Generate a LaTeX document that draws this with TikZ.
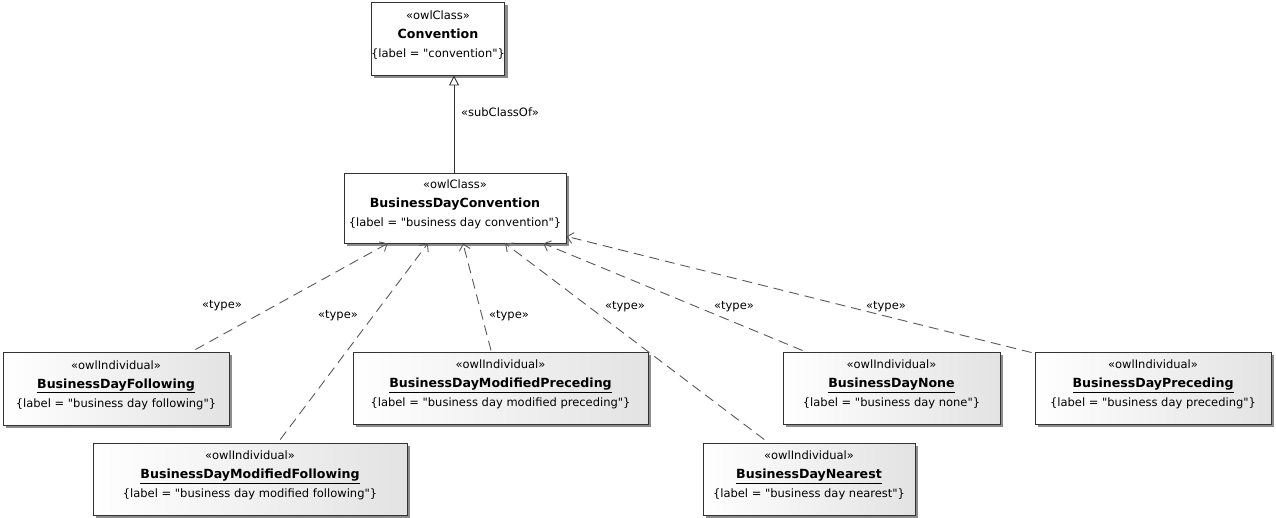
\documentclass[tikz,border=0pt]{standalone}
\usepackage{fontspec}
\setmainfont{DejaVu Sans}[Ligatures=TeXOff]
\usetikzlibrary{shadows,arrows.meta,calc}

\newcommand{\stfont}{\fontsize{11.5}{16}\selectfont}
\newcommand{\nmfont}{\fontsize{12.6}{16}\selectfont\bfseries}
\newcommand{\owlcls}[2]{{\stfont «owlClass»}\\[3pt]{\nmfont #1}\\[3pt]{\stfont \{label = "#2"\}}}
\newcommand{\owlind}[2]{{\stfont «owlIndividual»}\\[3pt]{\nmfont\underline{#1}}\\[3pt]{\stfont \{label = "#2"\}}}

\tikzset{
  umlbox/.style={draw=black!80, line width=0.9pt, align=center, inner sep=0pt,
    font=\stfont, text depth=9pt,
    drop shadow={shadow xshift=3pt, shadow yshift=-3pt, fill=black!45, opacity=1}},
  clsbox/.style={umlbox, fill=white},
  indbox/.style={umlbox, left color=white, right color=black!11},
  typeline/.style={draw=black!65, line width=0.9pt, dash pattern=on 10pt off 6pt,
    -{Straight Barb[length=6pt,width=11pt,line width=0.9pt]}},
  subline/.style={draw=black!80, line width=0.9pt,
    -{Triangle[open,length=10pt,width=10pt,line width=0.9pt]}},
  lbl/.style={font=\stfont, inner sep=1pt}
}

\begin{document}
\begin{tikzpicture}[x=1pt,y=-1pt]
\useasboundingbox (0,0) rectangle (1276,518);

\node[clsbox, minimum width=118pt, minimum height=73pt] (conv) at (438,38.5) {\owlcls{Convention}{convention}};
\node[clsbox, minimum width=222pt, minimum height=70pt] (bdc) at (455,208) {\owlcls{BusinessDayConvention}{business day convention}};

\node[indbox, minimum width=226pt, minimum height=73pt] (fol) at (116,388.5) {\owlind{BusinessDayFollowing}{business day following}};
\node[indbox, minimum width=314pt, minimum height=72pt] (mfol) at (250,479) {\owlind{BusinessDayModifiedFollowing}{business day modified following}};
\node[indbox, minimum width=295pt, minimum height=72pt] (mpre) at (500.5,388) {\owlind{BusinessDayModifiedPreceding}{business day modified preceding}};
\node[indbox, minimum width=212pt, minimum height=72pt] (near) at (809,479) {\owlind{BusinessDayNearest}{business day nearest}};
\node[indbox, minimum width=217pt, minimum height=72pt] (none) at (891.5,388) {\owlind{BusinessDayNone}{business day none}};
\node[indbox, minimum width=236pt, minimum height=72pt] (pre) at (1153,388) {\owlind{BusinessDayPreceding}{business day preceding}};

% subClassOf
\coordinate (subtip) at ($(conv.south west)!0.619!(conv.south east)$);
\draw[subline] (bdc.north -| subtip) -- (subtip);
\node[lbl] (lsub) at (500,112) {«subClassOf»};

% type connectors
\draw[typeline] ($(fol.north west)!0.85!(fol.north east)+(0,-2)$) -- ($(bdc.south west)!0.198!(bdc.south east)$);
\draw[typeline] ($(mfol.north west)!0.596!(mfol.north east)+(0,-3)$) -- ($(bdc.south west)!0.378!(bdc.south east)$);
\draw[typeline] ($(mpre.north west)!0.468!(mpre.north east)+(0,-1)$) -- ($(bdc.south west)!0.536!(bdc.south east)$);
\draw[typeline] ($(near.north west)!0.29!(near.north east)+(0,-3)$) -- ($(bdc.south west)!0.725!(bdc.south east)$);
\draw[typeline] ($(none.north west)!0.092!(none.north east)+(0,-1)$) -- ($(bdc.south west)!0.896!(bdc.south east)$);
\draw[typeline] ($(pre.north west)+(-3,1)$) -- ($(bdc.south east)!0.1!(bdc.north east)$);

\node[lbl] (l1) at (222,306) {«type»};
\node[lbl] (l2) at (338,316) {«type»};
\node[lbl] (l3) at (509,316) {«type»};
\node[lbl] (l4) at (625,307) {«type»};
\node[lbl] (l5) at (734,307) {«type»};
\node[lbl] (l6) at (886,307) {«type»};
\end{tikzpicture}
\end{document}
